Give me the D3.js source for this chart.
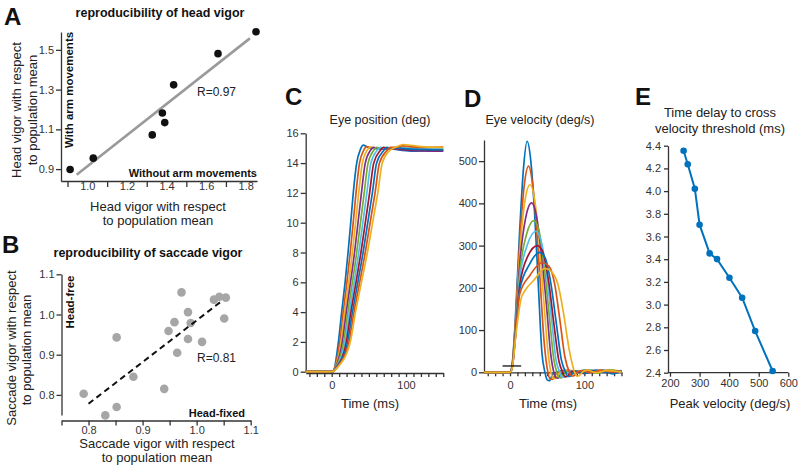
<!DOCTYPE html>
<html lang="en">
<head>
<meta charset="UTF-8">
<title>Vigor figure</title>
<script src="https://cdn.jsdelivr.net/npm/d3@7"></script>
<style>
    body { margin: 0; background: #fff; }
    svg { font-family: "Liberation Sans", Arial, sans-serif; }
    .axis path, .axis line { stroke: #333; stroke-width: 1.3px; }
    .axis text { fill: #333; font-size: 11px; font-family: "Liberation Sans", Arial, sans-serif; }
    .lbl { fill: #222; font-size: 13px; }
    .bold { font-weight: bold; fill: #111; }
    .letter { font-weight: bold; font-size: 24px; fill: #111; }
</style>
</head>
<body>
<svg id="fig" width="799" height="470"></svg>
<script>
// ---- panel A: head vigor, without vs with arm movements
const headX = [0.913, 1.03, 1.328, 1.379, 1.391, 1.436, 1.66, 1.852];
const headY = [0.898, 0.955, 1.072, 1.182, 1.134, 1.324, 1.481, 1.591];
const headFitX = [0.946, 1.821];
const headFitY = [0.871, 1.558];
const aTicksX = [1.0, 1.2, 1.4, 1.6, 1.8];
const aMinorX = [0.9, 1.1, 1.3, 1.5, 1.7];
const aTicksY = [0.9, 1.1, 1.3, 1.5];

// ---- panel B: saccade vigor, head-fixed vs head-free
const sacX = [0.791, 0.831, 0.852, 0.852, 0.883, 0.940, 0.948, 0.959, 0.964,
              0.972, 0.984, 0.984, 0.989, 1.010, 1.032, 1.042, 1.054, 1.051];
const sacY = [0.803, 0.749, 0.770, 0.943, 0.845, 0.815, 0.959, 0.981, 0.905,
              1.055, 1.006, 0.939, 0.979, 0.932, 1.037, 1.044, 1.042, 0.990];
const sacFitX = [0.8, 1.046];
const sacFitY = [0.778, 1.033];
const bTicks = [0.8, 0.9, 1.0, 1.1];
const bMinorX = [0.75, 0.8, 0.85, 0.9, 0.95, 1.0, 1.05, 1.1];

// ---- panels C/D: eye traces, one per speed group (time ms, value)
const traceColors = ["#0072BD", "#D95319", "#EDB120", "#7E2F8E", "#77AC30",
                     "#4DBEEE", "#A2142F", "#0072BD", "#D95319", "#EDB120"];

const pos0 = [[-35,0],[0,0],[2,0.02],[4,0.3],[9,2],[13.4,4],[18,6],[22,8],[25.6,10],[29,12],[33.6,14],[38.5,14.9],[42.5,15.2],[47,15.1],[53,15.0],[65,14.95],[80,14.95],[95,14.85],[110,14.8],[130,14.85],[150,14.8]];
const pos1 = [[-35,0],[0,0],[2,0.02],[4.4,0.3],[10.8,2],[15.5,4],[20.4,6],[24.9,8],[28.9,10],[32.7,12],[37.4,14],[43,14.85],[47,15.1],[52,15.05],[60,15.0],[75,14.98],[90,14.95],[105,14.9],[125,14.95],[150,14.9]];
const pos2 = [[-35,0],[0,0],[2,0.02],[4.9,0.3],[12.6,2],[17.5,4],[22.9,6],[27.8,8],[32.1,10],[36.3,12],[41.2,14],[47.5,14.85],[51.5,15.05],[57,15.02],[70,15.0],[85,15.0],[100,15.05],[125,15.0],[150,15.05]];
const pos3 = [[-35,0],[0,0],[2,0.02],[5.3,0.3],[14.3,2],[19.6,4],[25.3,6],[30.7,8],[35.4,10],[40,12],[45.1,14],[52,14.85],[56,15.05],[62,15.0],[75,14.98],[90,14.92],[105,14.85],[130,14.8],[150,14.82]];
const pos4 = [[-35,0],[0,0],[2,0.02],[5.8,0.3],[16.1,2],[21.7,4],[27.8,6],[33.6,8],[38.7,10],[43.7,12],[48.9,14],[56.5,14.85],[60.5,15.05],[67,15.0],[80,15.0],[95,14.98],[115,14.92],[150,14.95]];
const pos5 = [[-35,0],[0,0],[2,0.02],[6.2,0.3],[17.9,2],[23.7,4],[30.2,6],[36.4,8],[41.9,10],[47.3,12],[52.7,14],[61,14.85],[65,15.05],[72,15.0],[85,15.0],[100,15.0],[120,14.95],[150,14.98]];
const pos6 = [[-35,0],[0,0],[2,0.02],[6.7,0.3],[19.7,2],[25.8,4],[32.7,6],[39.3,8],[45.2,10],[51,12],[56.5,14],[65.5,14.85],[69.5,15.05],[76,15.0],[88,14.98],[100,14.92],[125,14.88],[150,14.85]];
const pos7 = [[-35,0],[0,0],[2,0.02],[7.1,0.3],[21.4,2],[27.9,4],[35.1,6],[42.2,8],[48.5,10],[54.7,12],[60.4,14],[70,14.85],[74,15.05],[80,15.0],[90,15.0],[102,14.95],[125,14.9],[150,14.88]];
const pos8 = [[-35,0],[0,0],[2,0.02],[7.6,0.3],[23.2,2],[30,4],[37.6,6],[45.1,8],[51.7,10],[58.3,12],[64.2,14],[74.5,14.85],[79,15.05],[86,15.05],[95,15.15],[105,15.12],[120,15.05],[150,15.08]];
const pos9 = [[-35,0],[0,0],[2,0.02],[8,0.3],[25,2],[32,4],[40,6],[48,8],[55,10],[62,12],[68,14],[77,14.8],[83,15.0],[90,15.15],[96,15.25],[106,15.2],[120,15.1],[135,15.05],[150,15.05]];

const vel0 = [[-35,0],[0,0],[3,20],[7,120],[13,335],[18,480],[23,547],[28,500],[33,380],[38,210],[43,45],[47,0],[50,-18],[53,-20],[57,-6],[62,0],[72,4],[85,-3],[100,5],[112,0],[125,5],[138,-4],[150,3]];
const vel1 = [[-35,0],[0,0],[3,18],[7,110],[13,305],[19,440],[25,488],[30,450],[35,360],[40,230],[46,70],[51,0],[54,-16],[57,-17],[61,-5],[66,0],[78,5],[92,-2],[104,6],[118,1],[132,5],[150,0]];
const vel2 = [[-35,0],[0,0],[3,16],[7,100],[13,280],[20,405],[27,444],[33,410],[39,315],[45,180],[51,50],[55,0],[58,-14],[61,-15],[65,-4],[70,0],[82,4],[96,-2],[108,5],[122,2],[136,6],[150,2]];
const vel3 = [[-35,0],[0,0],[3,15],[7,95],[13,255],[21,365],[29,401],[35,375],[42,285],[49,160],[55,40],[59,0],[62,-13],[65,-14],[69,-3],[74,0],[86,3],[100,-3],[114,4],[128,0],[150,3]];
const vel4 = [[-35,0],[0,0],[3,14],[7,90],[13,235],[22,325],[32,359],[39,335],[46,250],[53,130],[59,30],[63,0],[66,-12],[69,-13],[73,-2],[78,2],[90,-2],[104,4],[118,-2],[134,5],[150,1]];
const vel5 = [[-35,0],[0,0],[3,13],[7,85],[13,220],[23,300],[35,334],[42,310],[49,235],[56,125],[62,28],[67,0],[70,-12],[73,-11],[77,-2],[82,2],[95,-1],[108,5],[122,0],[138,4],[150,0]];
const vel6 = [[-35,0],[0,0],[3,13],[7,82],[13,205],[24,275],[37,300],[44,285],[52,215],[59,115],[66,25],[71,0],[74,-11],[77,-10],[81,-1],[86,3],[98,-2],[112,4],[126,1],[150,3]];
const vel7 = [[-35,0],[0,0],[3,12],[7,80],[13,195],[26,255],[40,284],[47,272],[55,210],[62,120],[69,30],[75,0],[78,-10],[81,-9],[85,-1],[90,3],[102,-2],[116,5],[130,0],[150,4]];
const vel8 = [[-35,0],[0,0],[3,12],[7,78],[13,185],[27,230],[43,260],[52,252],[60,210],[67,125],[74,35],[80,0],[83,-9],[86,-8],[90,0],[96,4],[108,-1],[122,5],[136,1],[150,3]];
const vel9 = [[-35,0],[0,0],[3,11],[8,90],[15,175],[20,193],[32,218],[47,246],[56,238],[65,205],[72,140],[80,50],[87,0],[90,-9],[93,-8],[97,0],[104,5],[116,-1],[130,4],[150,1]];

const positions = [pos0, pos1, pos2, pos3, pos4, pos5, pos6, pos7, pos8, pos9];
const velocities = [vel0, vel1, vel2, vel3, vel4, vel5, vel6, vel7, vel8, vel9];
const threshT = [-10, 15];
const threshV = 15;
const cTicksY = [0, 2, 4, 6, 8, 10, 12, 14, 16];
const dTicksY = [0, 100, 200, 300, 400, 500];
const timeLabels = [0, 100];
const timeMinor = d3.range(-30, 151, 10);

// ---- panel E: delay vs peak velocity
const peakVel = [246, 260, 284, 300, 334, 359, 401, 444, 488, 547];
const delayMs = [4.356, 4.236, 4.021, 3.704, 3.451, 3.401, 3.237, 3.061, 2.767, 2.415];
const eTicksX = [200, 300, 400, 500, 600];
const eTicksY = [2.4, 2.6, 2.8, 3.0, 3.2, 3.4, 3.6, 3.8, 4.0, 4.2, 4.4];

const svg = d3.select("#fig");

function text(str, x, y, cls, anchor) {
    return svg.append("text")
        .attr("x", x).attr("y", y)
        .attr("class", cls || "lbl")
        .attr("text-anchor", anchor || "start")
        .text(str);
}
function vtext(str, x, y, cls) {
    return svg.append("text")
        .attr("transform", `translate(${x},${y}) rotate(-90)`)
        .attr("class", cls || "lbl")
        .attr("text-anchor", "middle")
        .text(str);
}

// ================= A
const xA = d3.scaleLinear().domain([0.867, 1.857]).range([61, 257]);
const yA = d3.scaleLinear().domain([0.84, 1.59]).range([181, 32]);

svg.append("g").attr("class", "axis").attr("transform", "translate(0,181)")
    .call(d3.axisBottom(xA).tickValues(aMinorX).tickSize(6).tickSizeOuter(0).tickFormat(""));
svg.append("g").attr("class", "axis").attr("transform", "translate(0,181)")
    .call(d3.axisBottom(xA).tickValues(aTicksX).tickSize(0).tickPadding(1).tickFormat(d3.format(".1f")))
    .select(".domain").remove();
svg.append("g").attr("class", "axis").attr("transform", "translate(61,0)")
    .call(d3.axisLeft(yA).tickValues(aTicksY).tickSize(5).tickPadding(2).tickSizeOuter(0).tickFormat(d3.format(".1f")));

svg.append("line")
    .attr("x1", xA(headFitX[0])).attr("y1", yA(headFitY[0]))
    .attr("x2", xA(headFitX[1])).attr("y2", yA(headFitY[1]))
    .attr("stroke", "#9a9a9a").attr("stroke-width", 2.6);

svg.append("g").selectAll("circle")
    .data(headX.map((d, i) => [d, headY[i]]))
    .join("circle")
    .attr("cx", d => xA(d[0])).attr("cy", d => yA(d[1])).attr("r", 3.8)
    .attr("fill", "#111");

text("A", 4, 25, "letter");
text("reproducibility of head vigor", 160, 17, "bold", "middle").style("font-size", "12.5px");
text("R=0.97", 197, 96).style("font-size", "12px");
vtext("With arm movements", 73, 90, "bold").style("font-size", "11.5px");
text("Without arm movements", 257, 177, "bold", "end").style("font-size", "11px");
vtext("Head vigor with respect", 21, 110);
vtext("to population mean", 37, 110);
text("Head vigor with respect", 158, 211, "lbl", "middle");
text("to population mean", 158, 225, "lbl", "middle");

// ================= B
const xB = d3.scaleLinear().domain([0.75, 1.1]).range([61.5, 250.7]);
const yB = d3.scaleLinear().domain([0.75, 1.1]).range([415, 274.3]);

svg.append("g").attr("class", "axis").attr("transform", "translate(0,420.5)")
    .call(d3.axisBottom(xB).tickValues(bMinorX).tickSize(5).tickPadding(1).tickSizeOuter(0)
        .tickFormat(d => bTicks.some(t => Math.abs(t - d) < 1e-6) ? d3.format(".1f")(d) : ""));
svg.append("g").attr("class", "axis").attr("transform", "translate(61.5,0)")
    .call(d3.axisLeft(yB).tickValues(bTicks).tickSize(5).tickPadding(2).tickSizeOuter(0).tickFormat(d3.format(".1f")));

svg.append("g").selectAll("circle")
    .data(sacX.map((d, i) => [d, sacY[i]]))
    .join("circle")
    .attr("cx", d => xB(d[0])).attr("cy", d => yB(d[1])).attr("r", 4.3)
    .attr("fill", "#a6a6a6");

svg.append("line")
    .attr("x1", xB(sacFitX[0])).attr("y1", yB(sacFitY[0]))
    .attr("x2", xB(sacFitX[1])).attr("y2", yB(sacFitY[1]))
    .attr("stroke", "#111").attr("stroke-width", 2).attr("stroke-dasharray", "6,4");

text("B", 2, 253, "letter");
text("reproducibility of saccade vigor", 148, 257, "bold", "middle").style("font-size", "12.5px");
text("R=0.81", 197, 362).style("font-size", "12px");
vtext("Head-free", 74, 302, "bold").style("font-size", "11.5px");
text("Head-fixed", 245, 417, "bold", "end").style("font-size", "11px");
vtext("Saccade vigor with respect", 16, 348);
vtext("to population mean", 31, 350);
text("Saccade vigor with respect", 157, 448, "lbl", "middle");
text("to population mean", 157, 462, "lbl", "middle");

// ================= C
const xC = d3.scaleLinear().domain([-35, 150]).range([305.7, 443.2]);
const yC = d3.scaleLinear().domain([0, 16]).range([371.7, 133.3]);

svg.append("g").attr("class", "axis").attr("transform", "translate(0,373)")
    .call(d3.axisBottom(xC).tickValues(timeMinor).tickSize(4).tickPadding(4).tickSizeOuter(0)
        .tickFormat(d => timeLabels.includes(d) ? d : ""));
svg.append("g").attr("class", "axis").attr("transform", "translate(305.7,0)")
    .call(d3.axisLeft(yC).tickValues(cTicksY).tickSize(5).tickPadding(2).tickSizeOuter(0));

const lineC = d3.line().x(d => xC(d[0])).y(d => yC(d[1])).curve(d3.curveMonotoneX);
svg.append("g").selectAll("path")
    .data(positions)
    .join("path")
    .attr("d", lineC)
    .attr("fill", "none")
    .attr("stroke", (d, i) => traceColors[i])
    .attr("stroke-width", 1.7);

text("C", 285, 105, "letter");
text("Eye position (deg)", 380, 124, "lbl", "middle").style("font-size", "12.5px");
text("Time (ms)", 370, 408, "lbl", "middle");

// ================= D
const xD = d3.scaleLinear().domain([-35, 150]).range([484, 621.5]);
const yD = d3.scaleLinear().domain([0, 550]).range([372.3, 140]);

svg.append("g").attr("class", "axis").attr("transform", "translate(0,372.3)")
    .call(d3.axisBottom(xD).tickValues(timeMinor).tickSize(4).tickPadding(5).tickSizeOuter(0)
        .tickFormat(d => timeLabels.includes(d) ? d : ""));
svg.append("g").attr("class", "axis").attr("transform", "translate(484,0)")
    .call(d3.axisLeft(yD).tickValues(dTicksY).tickSize(5).tickPadding(2).tickSizeOuter(0));

const lineD = d3.line().x(d => xD(d[0])).y(d => yD(d[1])).curve(d3.curveMonotoneX);
svg.append("g").selectAll("path")
    .data(velocities)
    .join("path")
    .attr("d", lineD)
    .attr("fill", "none")
    .attr("stroke", (d, i) => traceColors[i])
    .attr("stroke-width", 1.7);

svg.append("line")
    .attr("x1", xD(threshT[0])).attr("x2", xD(threshT[1]))
    .attr("y1", yD(threshV)).attr("y2", yD(threshV))
    .attr("stroke", "#111").attr("stroke-width", 1.3);

text("D", 464, 107, "letter");
text("Eye velocity (deg/s)", 540, 124, "lbl", "middle").style("font-size", "12.5px");
text("Time (ms)", 548, 408, "lbl", "middle");

// ================= E
const xE = d3.scaleLinear().domain([200, 600]).range([670, 788.3]);
const yE = d3.scaleLinear().domain([2.4, 4.4]).range([372.7, 145.7]);

svg.append("g").attr("class", "axis").attr("transform", "translate(0,372.7)")
    .call(d3.axisBottom(xE).tickValues(eTicksX).tickSize(4).tickPadding(3).tickSizeOuter(0));
svg.append("g").attr("class", "axis").attr("transform", "translate(668,0)")
    .call(d3.axisLeft(yE).tickValues(eTicksY).tickSize(4).tickPadding(3).tickSizeOuter(0).tickFormat(d3.format(".1f")));
svg.selectAll(".axis").filter(function () { return this.getAttribute("transform") === "translate(0,372.7)"; })
    .select(".domain").attr("d", "M668,0H788.3");

const ePts = peakVel.map((d, i) => [d, delayMs[i]]);
svg.append("path")
    .datum(ePts)
    .attr("d", d3.line().x(d => xE(d[0])).y(d => yE(d[1])))
    .attr("fill", "none").attr("stroke", "#0072BD").attr("stroke-width", 2);
svg.append("g").selectAll("circle")
    .data(ePts)
    .join("circle")
    .attr("cx", d => xE(d[0])).attr("cy", d => yE(d[1])).attr("r", 3.3)
    .attr("fill", "#0072BD");

text("E", 635, 105, "letter");
text("Time delay to cross", 720, 117, "lbl", "middle");
text("velocity threshold (ms)", 720, 133, "lbl", "middle");
text("Peak velocity (deg/s)", 730, 408, "lbl", "middle");
</script>
</body>
</html>
